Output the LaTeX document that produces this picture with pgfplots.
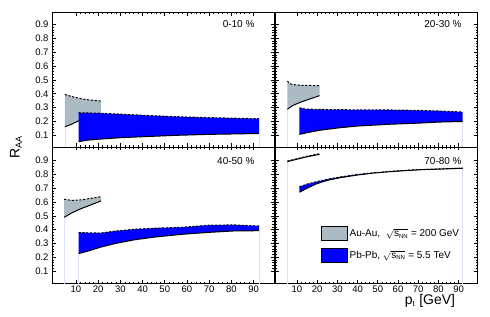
\documentclass[border=0pt]{standalone}
\usepackage{fontspec}
\setmainfont{Liberation Sans}
\usepackage{pgfplots}
\pgfplotsset{compat=1.18}
\definecolor{auau}{RGB}{172,186,196}
\definecolor{pbpb}{RGB}{0,0,255}
\definecolor{edgec}{RGB}{222,222,246}
\tikzset{
 up/.style={black, line width=1pt, dash pattern=on 2.2pt off 1.6pt},
 lo/.style={black, line width=1pt},
 ed/.style={edgec, line width=0.5pt},
 lab/.style={font=\fontsize{10}{12}\selectfont, anchor=east},
}
\pgfplotsset{
 panel/.style={
  scale only axis, anchor=south west,
  xmin=-0.8, xmax=99.2,
  xtick={10,20,30,40,50,60,70,80,90}, minor x tick num=4,
  ytick={0.1,0.2,0.3,0.4,0.5,0.6,0.7,0.8,0.9}, minor y tick num=4,
  tick align=inside, major tick length=3.5pt, minor tick length=1.8pt,
  tick pos=both,
  tick style={black, line width=0.6pt},
  axis line style={line width=0.8pt},
  ticklabel style={font=\fontsize{9.5}{11}\selectfont},
  /pgf/number format/assume math mode=true,
  yticklabel style={/pgf/number format/fixed, /pgf/number format/precision=1},
  xticklabel style={yshift=1pt},
 },
}
\begin{document}
\begin{tikzpicture}
\useasboundingbox (0,0) rectangle (490pt,316pt);
% ---------------- top-left 0-10 %
\begin{axis}[panel, at={(52pt,169pt)}, width=222pt, height=134.7pt,
  ymin=0.016, ymax=0.987, xticklabels={}]
\addplot[ed] coordinates {(5,0) (5,0.162)};
\addplot[ed] coordinates {(92.5,0) (92.5,0.113)};
\addplot[fill=auau, draw=none] coordinates {(5,0.395)(8,0.38)(12,0.365)(16,0.355)(21.3,0.347)(21.3,0.25)(16,0.23)(11.2,0.205)(8,0.18)(5,0.162)} -- cycle;
\addplot[up] coordinates {(5,0.395)(8,0.38)(12,0.365)(16,0.355)(21.3,0.347)};
\addplot[lo] coordinates {(5,0.162)(8,0.18)(11.2,0.205)(16,0.23)(21.3,0.25)};
\addplot[fill=pbpb, draw=none] coordinates {(11.2,0.263)(20,0.26)(30,0.253)(40,0.245)(50,0.238)(60,0.232)(70,0.228)(80,0.224)(92.5,0.22)(92.5,0.113)(88,0.112)(70,0.107)(55,0.1)(43,0.092)(30,0.083)(20,0.072)(15,0.065)(11.2,0.054)} -- cycle;
\addplot[up] coordinates {(11.2,0.263)(20,0.26)(30,0.253)(40,0.245)(50,0.238)(60,0.232)(70,0.228)(80,0.224)(92.5,0.22)};
\addplot[lo] coordinates {(11.2,0.054)(15,0.065)(20,0.072)(30,0.083)(43,0.092)(55,0.1)(70,0.107)(88,0.112)(92.5,0.113)};
\node[lab] at (rel axis cs:0.928,0.915) {0-10 \%};
\end{axis}
% ---------------- top-right 20-30 %
\begin{axis}[panel, at={(275pt,169pt)}, width=202.3pt, height=134.7pt,
  ymin=0.016, ymax=0.987, xticklabels={}, yticklabels={}]
\addplot[ed] coordinates {(5.3,0) (5.3,0.288)};
\addplot[ed] coordinates {(92,0) (92,0.2)};
\addplot[fill=auau, draw=none] coordinates {(5.3,0.49)(7,0.47)(10,0.462)(15,0.46)(21.2,0.458)(21.2,0.386)(16,0.36)(12,0.34)(8,0.315)(5.3,0.288)} -- cycle;
\addplot[up] coordinates {(5.3,0.49)(7,0.47)(10,0.462)(15,0.46)(21.2,0.458)};
\addplot[lo] coordinates {(5.3,0.288)(8,0.315)(12,0.34)(16,0.36)(21.2,0.386)};
\addplot[fill=pbpb, draw=none] coordinates {(11.3,0.299)(14,0.29)(20,0.287)(30,0.285)(40,0.284)(56,0.283)(70,0.28)(80,0.276)(92,0.268)(92,0.2)(81,0.196)(70,0.188)(56,0.18)(40,0.167)(31.4,0.155)(22,0.138)(16,0.122)(11.3,0.107)} -- cycle;
\addplot[up] coordinates {(11.3,0.299)(14,0.29)(20,0.287)(30,0.285)(40,0.284)(56,0.283)(70,0.28)(80,0.276)(92,0.268)};
\addplot[lo] coordinates {(11.3,0.107)(16,0.122)(22,0.138)(31.4,0.155)(40,0.167)(56,0.18)(70,0.188)(81,0.196)(92,0.2)};
\node[lab] at (rel axis cs:0.94,0.915) {20-30 \%};
\end{axis}
% ---------------- bottom-left 40-50 %
\begin{axis}[panel, at={(52pt,32.5pt)}, width=222pt, height=136.5pt,
  ymin=0.009, ymax=0.999]
\addplot[ed] coordinates {(4.7,0) (4.7,0.489)};
\addplot[ed] coordinates {(11.2,0) (11.2,0.226)};
\addplot[ed] coordinates {(92.5,0) (92.5,0.392)};
\addplot[fill=auau, draw=none] coordinates {(4.7,0.62)(8,0.612)(12,0.615)(16,0.625)(21.3,0.639)(21.3,0.608)(16,0.575)(12,0.55)(8,0.52)(4.7,0.489)} -- cycle;
\addplot[up] coordinates {(4.7,0.62)(8,0.612)(12,0.615)(16,0.625)(21.3,0.639)};
\addplot[lo] coordinates {(4.7,0.489)(8,0.52)(12,0.55)(16,0.575)(21.3,0.608)};
\addplot[fill=pbpb, draw=none] coordinates {(11.2,0.378)(15,0.377)(21,0.375)(28,0.39)(36,0.402)(45,0.41)(58,0.417)(70,0.432)(81,0.434)(92.5,0.426)(92.5,0.392)(81,0.39)(70,0.38)(58,0.366)(45,0.345)(36,0.325)(28,0.3)(21,0.272)(15,0.242)(11.2,0.226)} -- cycle;
\addplot[up] coordinates {(11.2,0.378)(15,0.377)(21,0.375)(28,0.39)(36,0.402)(45,0.41)(58,0.417)(70,0.432)(81,0.434)(92.5,0.426)};
\addplot[lo] coordinates {(11.2,0.226)(15,0.242)(21,0.272)(28,0.3)(36,0.325)(45,0.345)(58,0.366)(70,0.38)(81,0.39)(92.5,0.392)};
\node[lab] at (rel axis cs:0.928,0.9) {40-50 \%};
\end{axis}
% ---------------- bottom-right 70-80 %
\begin{axis}[panel, at={(275pt,32.5pt)}, width=202.3pt, height=136.5pt,
  ymin=0.009, ymax=0.999, yticklabels={},
  legend style={at={(0.227,0.421)}, anchor=north west, draw=none, fill=none,
    inner sep=0pt, outer sep=0pt, row sep=7pt, font=\fontsize{10}{12}\selectfont,
    cells={anchor=west}},
  legend image code/.code={\draw[#1, line width=0.7pt] (0pt,-7pt) rectangle (26pt,7pt);}]
\addlegendimage{fill=auau, draw=black}
\addlegendentry{Au-Au,\ \ $\sqrt{\mbox{s}_{\mbox{\fontsize{6}{7}\selectfont NN}}}$ = 200 GeV}
\addlegendimage{fill=pbpb, draw=black}
\addlegendentry{Pb-Pb, $\sqrt{\mbox{s}_{\mbox{\fontsize{6}{7}\selectfont NN}}}$ = 5.5 TeV}
\addplot[ed, forget plot] coordinates {(5.3,0) (5.3,0.893)};
\addplot[ed, forget plot] coordinates {(92,0) (92,0.845)};
\addplot[fill=auau, draw=none, forget plot] coordinates {(5.3,0.897)(10,0.914)(15,0.932)(21.2,0.95)(21.2,0.946)(15,0.928)(10,0.91)(5.3,0.893)} -- cycle;
\addplot[up, forget plot] coordinates {(5.3,0.897)(10,0.914)(15,0.932)(21.2,0.95)};
\addplot[lo, forget plot] coordinates {(5.3,0.893)(10,0.91)(15,0.928)(21.2,0.946)};
\addplot[fill=pbpb, draw=none, forget plot] coordinates {(11.3,0.711)(15,0.73)(19.9,0.748)(25,0.765)(31.4,0.782)(40,0.8)(48,0.812)(56,0.822)(64,0.83)(72,0.836)(81,0.84)(92,0.846)(92,0.845)(81,0.839)(72,0.835)(64,0.828)(56,0.82)(48,0.81)(40,0.796)(31.4,0.776)(25,0.757)(19.9,0.733)(15,0.7)(11.3,0.671)} -- cycle;
\addplot[up, forget plot] coordinates {(11.3,0.711)(15,0.73)(19.9,0.748)(25,0.765)(31.4,0.782)(40,0.8)(48,0.812)(56,0.822)(64,0.83)(72,0.836)(81,0.84)(92,0.846)};
\addplot[lo, forget plot] coordinates {(11.3,0.671)(15,0.7)(19.9,0.733)(25,0.757)(31.4,0.776)(40,0.796)(48,0.81)(56,0.82)(64,0.828)(72,0.835)(81,0.839)(92,0.845)};
\node[lab] at (rel axis cs:0.94,0.9) {70-80 \%};
\end{axis}
\node[rotate=90, font=\fontsize{14}{16}\selectfont] at (16pt,169pt) {R$_{\mbox{\fontsize{9}{10}\selectfont AA}}$};
\node[font=\fontsize{14}{16}\selectfont] at (430pt,15pt) {p$_{\mbox{\fontsize{8}{9}\selectfont t}}$ [GeV]};
\end{tikzpicture}
\end{document}
